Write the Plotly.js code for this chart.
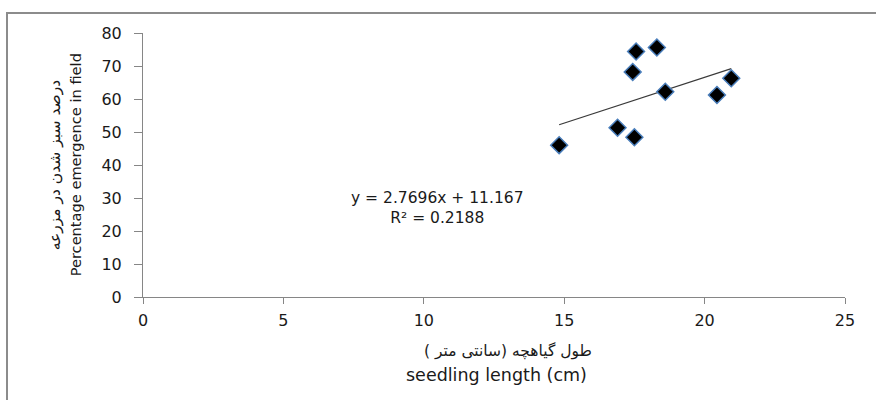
<!DOCTYPE html>
<html>
<head>
<meta charset="utf-8">
<script src="https://cdn.plot.ly/plotly-3.0.1.min.js"></script>
<style>
  html, body { margin: 0; padding: 0; background: #fff; overflow: hidden; }
  #frame { position: absolute; left: 6px; top: 12px; width: 900px; height: 420px;
           border-left: 2px solid #8c8c8c; border-top: 2px solid #8c8c8c; }
  #chart { position: absolute; left: 0; top: 0; width: 876px; height: 400px; }
</style>
</head>
<body>
<div id="frame"></div>
<div id="chart"></div>
<script>
// Data
const seedlingLength = [14.82, 16.9, 17.5, 17.44, 17.56, 18.3, 18.6, 20.44, 20.95];
const emergence      = [46.0, 51.3, 48.4, 68.2, 74.4, 75.6, 62.2, 61.2, 66.3];
const xTicks = [0, 5, 10, 15, 20, 25];
const yTicks = [0, 10, 20, 30, 40, 50, 60, 70, 80];
const trendSlope = 2.7696;
const trendIntercept = 11.167;
const trendR2 = 0.2188;
const yTitleFa = 'درصد سبز شدن در مزرعه';
const yTitleEn = 'Percentage emergence in field';
const xTitleFa = 'طول گیاهچه (سانتی متر )';
const xTitleEn = 'seedling length (cm)';

const xMin = Math.min(...seedlingLength);
const xMax = Math.max(...seedlingLength);
const trendX = [xMin, xMax];
const trendY = trendX.map(v => trendSlope * v + trendIntercept);

const FONT = 'DejaVu Sans, Verdana, sans-serif';
const TXT = '#1a1a1a';

const traces = [
  {
    x: trendX, y: trendY, type: 'scatter', mode: 'lines',
    line: { color: '#3a3a3a', width: 1.2 }, hoverinfo: 'skip', showlegend: false
  },
  {
    x: seedlingLength, y: emergence, type: 'scatter', mode: 'markers',
    marker: { symbol: 'diamond', size: 13, color: '#000000',
              line: { color: '#4a7ebb', width: 1.5 } },
    showlegend: false
  }
];

const layout = {
  width: 876, height: 400,
  margin: { l: 142.7, r: 31, t: 33.3, b: 103.3 },
  paper_bgcolor: 'rgba(0,0,0,0)', plot_bgcolor: 'rgba(0,0,0,0)',
  font: { family: FONT, color: TXT, size: 16 },
  showlegend: false,
  xaxis: {
    range: [0, 25], tickvals: xTicks, ticktext: xTicks.map(String),
    showgrid: false, zeroline: false, showline: true, linecolor: '#868686', linewidth: 1,
    ticks: 'outside', ticklen: 6, tickcolor: '#868686', tickwidth: 1,
    tickfont: { family: FONT, size: 16, color: TXT }, ticklabelstandoff: 3
  },
  yaxis: {
    range: [0, 80], tickvals: yTicks, ticktext: yTicks.map(String),
    showgrid: false, zeroline: false, showline: true, linecolor: '#868686', linewidth: 1,
    ticks: 'outside', ticklen: 8, tickcolor: '#868686', tickwidth: 1,
    tickfont: { family: FONT, size: 16, color: TXT }, ticklabelstandoff: 9
  },
  annotations: [
    { text: 'y = ' + trendSlope + 'x + ' + trendIntercept + '<br>R² = ' + trendR2,
      x: 10.49, y: 26.9, xref: 'x', yref: 'y', align: 'center',
      showarrow: false, xanchor: 'center', yanchor: 'middle', font: { family: FONT, size: 15.5, color: TXT } },
    { text: yTitleFa, x: -0.1249, y: 0.5, xref: 'paper', yref: 'paper', textangle: -90,
      showarrow: false, xanchor: 'center', yanchor: 'middle', font: { family: FONT, size: 15.5, color: TXT } },
    { text: yTitleEn, x: -0.0964, y: 0.5, xref: 'paper', yref: 'paper', textangle: -90,
      showarrow: false, xanchor: 'center', yanchor: 'middle', font: { family: FONT, size: 14.6, color: TXT } },
    { text: xTitleFa, x: 0.5194, y: -0.2062, xref: 'paper', yref: 'paper',
      showarrow: false, xanchor: 'center', yanchor: 'middle', font: { family: FONT, size: 15.5, color: TXT } },
    { text: xTitleEn, x: 0.503, y: -0.2954, xref: 'paper', yref: 'paper',
      showarrow: false, xanchor: 'center', yanchor: 'middle', font: { family: FONT, size: 17.5, color: TXT } }
  ]
};

Plotly.newPlot('chart', traces, layout, { displayModeBar: false, staticPlot: true });
</script>
</body>
</html>
